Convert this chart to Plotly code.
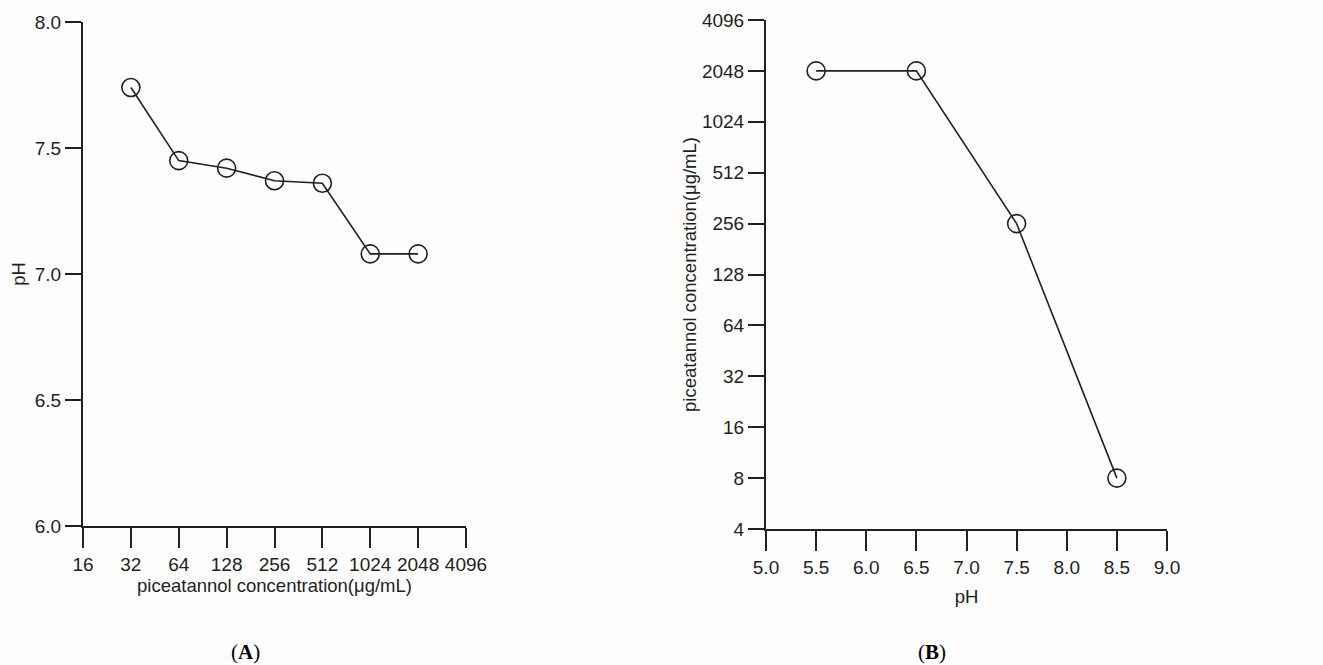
import math
import plotly.graph_objects as go

# Panel A data
conc_a = [32, 64, 128, 256, 512, 1024, 2048]
ph_a = [7.74, 7.45, 7.42, 7.37, 7.36, 7.08, 7.08]
xticks_a = [16, 32, 64, 128, 256, 512, 1024, 2048, 4096]
yticks_a = [6.0, 6.5, 7.0, 7.5, 8.0]

# Panel B data
ph_b = [5.5, 6.5, 7.5, 8.5]
conc_b = [2048, 2048, 256, 8]
xticks_b = [5.0, 5.5, 6.0, 6.5, 7.0, 7.5, 8.0, 8.5, 9.0]
yticks_b = [4, 8, 16, 32, 64, 128, 256, 512, 1024, 2048, 4096]

W, H = 1323, 665
INK = "#231f20"
FAM = "Liberation Sans, Arial"
TICKFONT = dict(family=FAM, size=19, color=INK)
TITLEFONT = dict(family=FAM, size=18.5, color=INK)

def px_x(a, b):
    return [a / W, b / W]

def px_y(top, bottom):
    return [1 - bottom / H, 1 - top / H]

fig = go.Figure()
marker = dict(symbol="circle-open", size=18, color=INK, line=dict(width=1.6, color=INK))
fig.add_trace(go.Scatter(x=conc_a, y=ph_a, mode="lines+markers", xaxis="x", yaxis="y",
                         line=dict(color=INK, width=1.6), marker=marker, showlegend=False))
fig.add_trace(go.Scatter(x=ph_b, y=conc_b, mode="lines+markers", xaxis="x2", yaxis="y2",
                         line=dict(color=INK, width=1.6), marker=marker, showlegend=False))

axis_common = dict(showgrid=False, zeroline=False, showline=True, linecolor=INK, linewidth=2,
                   ticks="outside", tickcolor=INK, tickwidth=2, tickfont=TICKFONT, mirror=False,
                   automargin=False)

fig.update_layout(
    width=W, height=H,
    margin=dict(l=0, r=0, t=0, b=0),
    paper_bgcolor="#fdfdfd", plot_bgcolor="#fdfdfd",
    xaxis=dict(domain=px_x(83, 466), anchor="y", type="log",
               range=[math.log10(16), math.log10(4096)],
               tickvals=xticks_a, ticktext=[str(v) for v in xticks_a], ticklen=20,
               title=dict(text="piceatannol concentration(μg/mL)", font=TITLEFONT, standoff=4),
               **axis_common),
    yaxis=dict(domain=px_y(22, 526), anchor="x", range=[6.0, 8.0],
               tickvals=yticks_a, ticktext=[f"{v:.1f}" for v in yticks_a], ticklen=16,
               title=dict(text="pH", font=TITLEFONT, standoff=4),
               **axis_common),
    xaxis2=dict(domain=px_x(766, 1167), anchor="y2", range=[5.0, 9.0],
                tickvals=xticks_b, ticktext=[f"{v:.1f}" for v in xticks_b], ticklen=20,
                title=dict(text="pH", font=TITLEFONT, standoff=13),
                **axis_common),
    yaxis2=dict(domain=px_y(20, 529), anchor="x2", type="log",
                range=[math.log10(4), math.log10(4096)],
                tickvals=yticks_b, ticktext=[str(v) for v in yticks_b], ticklen=16,
                title=dict(text="piceatannol concentration(μg/mL)", font=TITLEFONT, standoff=0),
                **axis_common),
    annotations=[
        dict(text="(<b>A</b>)", x=245 / W, y=1 - 652 / H, xref="paper", yref="paper",
             xanchor="center", yanchor="middle", showarrow=False,
             font=dict(family="Liberation Serif, Times New Roman", size=21, color="#000")),
        dict(text="(<b>B</b>)", x=932 / W, y=1 - 652 / H, xref="paper", yref="paper",
             xanchor="center", yanchor="middle", showarrow=False,
             font=dict(family="Liberation Serif, Times New Roman", size=21, color="#000")),
    ],
)

fig.write_html("out.html", config={"displayModeBar": False},
               post_script="document.body.style.margin='0';document.body.style.overflow='hidden';")
